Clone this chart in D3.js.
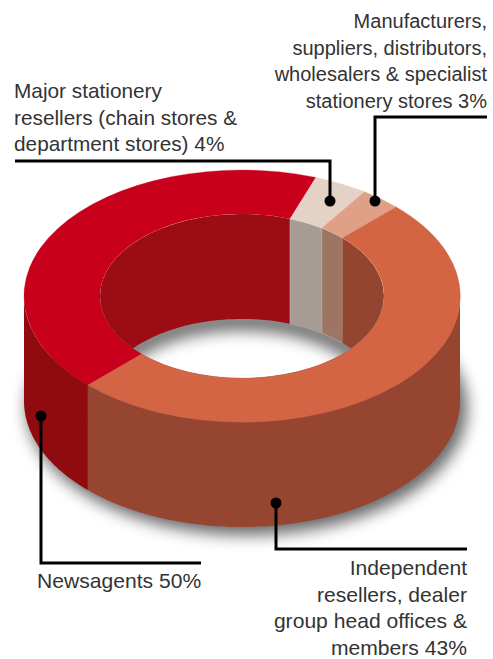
<!DOCTYPE html>
<html>
<head>
<meta charset="utf-8">
<script src="https://cdn.jsdelivr.net/npm/d3@7"></script>
<style>
  html, body { margin: 0; padding: 0; background: #fff; }
  svg { display: block; }
  text { font-family: "Liberation Sans", sans-serif; fill: #333; }
</style>
</head>
<body>
<div id="chart"></div>
<script>
// Slices in drawing order, clockwise from the lower left of the ring.
// Shares are what the ring shows; the printed labels are kept as text below.
var slice_names = ["Red", "Pale", "Tan", "Orange"];
var slice_shares = [43, 4, 3, 50];
var top_colours = ["#c9001b", "#e4d2c7", "#dfa086", "#d36545"];
var outer_wall_colours = ["#8f0b10", "#b9a79d", "#b57f68", "#964530"];
var inner_wall_colours = ["#9b0c14", "#a79b96", "#9e7462", "#93452f"];

var label_manufacturers = ["Manufacturers,", "suppliers, distributors,", "wholesalers & specialist", "stationery stores 3%"];
var label_major = ["Major stationery", "resellers (chain stores &", "department stores) 4%"];
var label_newsagents = ["Newsagents 50%"];
var label_independent = ["Independent", "resellers, dealer", "group head offices &", "members 43%"];

var width = 493, height = 659;
var cx = 242, cy = 296;
var outer_r = 218, inner_r = 142;
var squash = 126 / 218;
var depth = 105;
var start_angle = 225 * Math.PI / 180;

var svg = d3.select("#chart").append("svg")
    .attr("width", width)
    .attr("height", height);

var defs = svg.append("defs");

defs.append("filter").attr("id", "blur_big")
    .attr("x", "-20%").attr("y", "-20%").attr("width", "140%").attr("height", "140%")
    .append("feGaussianBlur").attr("stdDeviation", 8);

defs.append("filter").attr("id", "blur_hole")
    .attr("x", "-20%").attr("y", "-40%").attr("width", "140%").attr("height", "180%")
    .append("feGaussianBlur").attr("stdDeviation", 8);

defs.append("clipPath").attr("id", "inner_clip")
    .append("ellipse")
    .attr("cx", cx).attr("cy", cy)
    .attr("rx", inner_r).attr("ry", inner_r * squash);

var pie = d3.pie()
    .sort(null)
    .startAngle(start_angle)
    .endAngle(start_angle + 2 * Math.PI);

var arcs = pie(slice_shares);

// Point on a ring ellipse. Angle is clockwise from the top, as in d3.arc.
function ring_point(r, a, dy) {
    return [cx + r * Math.sin(a), cy - r * squash * Math.cos(a) + dy];
}

// Band between the ring edge and the same edge pushed down by the depth.
function wall_path(r, a0, a1) {
    var angles = d3.range(0, 61).map(function(i) { return a0 + (a1 - a0) * i / 60; });
    var top_edge = angles.map(function(a) { return ring_point(r, a, 0); });
    var bottom_edge = angles.slice().reverse().map(function(a) { return ring_point(r, a, depth); });
    return d3.line()(top_edge.concat(bottom_edge)) + "Z";
}

// Same angle seen on another turn of the circle, so the walls can be split up
function overlap(d, lo, hi) {
    var found = [];
    [-2, 0, 2].forEach(function(k) {
        var a0 = Math.max(d.startAngle, lo + k * Math.PI);
        var a1 = Math.min(d.endAngle, hi + k * Math.PI);
        if (a1 > a0) found.push([a0, a1]);
    });
    return found;
}

// Shadow under the whole solid
svg.append("ellipse")
    .attr("cx", cx + 5).attr("cy", cy + depth + 7)
    .attr("rx", outer_r + 2).attr("ry", outer_r * squash + 1)
    .attr("fill", "#000").attr("opacity", 0.6)
    .attr("filter", "url(#blur_big)");

// Hole is white with a soft shadow along the wall
svg.append("ellipse")
    .attr("cx", cx).attr("cy", cy)
    .attr("rx", inner_r).attr("ry", inner_r * squash)
    .attr("fill", "#fff");

var inner = svg.append("g").attr("clip-path", "url(#inner_clip)");

inner.append("ellipse")
    .attr("cx", cx).attr("cy", cy + depth + 2)
    .attr("rx", inner_r).attr("ry", inner_r * squash)
    .attr("fill", "none")
    .attr("stroke", "#000")
    .attr("stroke-width", 18)
    .attr("opacity", 0.62)
    .attr("filter", "url(#blur_hole)");

// Inner wall, only the far half of the circle shows
arcs.forEach(function(d, i) {
    overlap(d, -Math.PI / 2, Math.PI / 2).forEach(function(span) {
        inner.append("path")
            .attr("class", "inner-wall " + slice_names[i])
            .attr("d", wall_path(inner_r, span[0], span[1]))
            .attr("fill", inner_wall_colours[i])
            .attr("stroke", i == 1 || i == 2 ? "#b8aaa4" : "none")
            .attr("stroke-width", 0.8);
    });
});

// Outer wall, only the near half shows
arcs.forEach(function(d, i) {
    overlap(d, Math.PI / 2, 3 * Math.PI / 2).forEach(function(span) {
        svg.append("path")
            .attr("class", "outer-wall " + slice_names[i])
            .attr("d", wall_path(outer_r, span[0], span[1]))
            .attr("fill", outer_wall_colours[i]);
    });
});

// Top face of the ring
var arc = d3.arc().innerRadius(inner_r).outerRadius(outer_r);

svg.append("g")
    .attr("transform", "translate(" + cx + "," + cy + ") scale(1," + squash + ")")
    .selectAll("path")
    .data(arcs)
    .enter().append("path")
    .attr("d", arc)
    .attr("fill", function(d, i) { return top_colours[i]; })
    .attr("stroke", function(d, i) { return top_colours[i]; })
    .attr("stroke-width", 0.4);

// Leader lines with their dots
var leaders = [
    {dot: [330, 201], via: [[330, 161], [15, 161]]},
    {dot: [375, 201], via: [[375, 117], [487, 117]]},
    {dot: [41, 416], via: [[41, 563], [201, 563]]},
    {dot: [276, 503], via: [[276, 549], [467, 549]]}
];

leaders.forEach(function(l) {
    svg.append("path")
        .attr("d", d3.line()([l.dot].concat(l.via)))
        .attr("fill", "none")
        .attr("stroke", "#000")
        .attr("stroke-width", 3);
    svg.append("circle")
        .attr("cx", l.dot[0]).attr("cy", l.dot[1])
        .attr("r", 5.5)
        .attr("fill", "#000");
});

// Labels
function add_label(lines, x, y, anchor, size) {
    svg.append("text")
        .attr("text-anchor", anchor)
        .style("font-size", size + "px")
        .selectAll("tspan")
        .data(lines)
        .enter().append("tspan")
        .attr("x", x)
        .attr("y", function(d, i) { return y + i * 26.5; })
        .text(function(d) { return d; });
}

add_label(label_manufacturers, 487, 28, "end", 20);
add_label(label_major, 14, 98, "start", 20.8);
add_label(label_newsagents, 37, 588, "start", 21.1);
add_label(label_independent, 467, 575, "end", 21.1);
</script>
</body>
</html>
